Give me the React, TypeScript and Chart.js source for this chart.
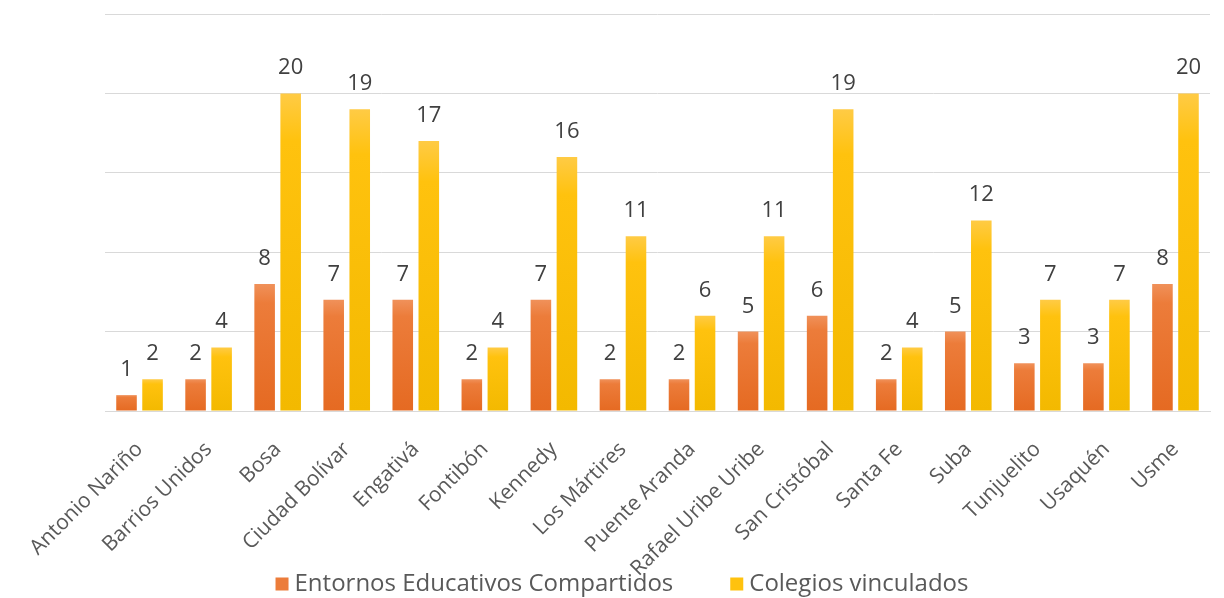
import React, { useEffect, useRef } from "react";
import { Chart, registerables } from "chart.js";

Chart.register(...registerables);

const categories = [
  "Antonio Nariño",
  "Barrios Unidos",
  "Bosa",
  "Ciudad Bolívar",
  "Engativá",
  "Fontibón",
  "Kennedy",
  "Los Mártires",
  "Puente Aranda",
  "Rafael Uribe Uribe",
  "San Cristóbal",
  "Santa Fe",
  "Suba",
  "Tunjuelito",
  "Usaquén",
  "Usme",
];
const entornos = [1, 2, 8, 7, 7, 2, 7, 2, 2, 5, 6, 2, 5, 3, 3, 8];
const colegios = [2, 4, 20, 19, 17, 4, 16, 11, 6, 11, 19, 4, 12, 7, 7, 20];
const seriesNames = ["Entornos Educativos Compartidos", "Colegios vinculados"];
const seriesColors = ["#EC7C3A", "#FFC20E"];

const FONT = "'Open Sans', 'Noto Sans', sans-serif";

function barGradient(top: string, bottom: string, solid: string) {
  return (ctx: any) => {
    const chart = ctx.chart;
    const y = chart.scales && chart.scales.y;
    if (!chart.chartArea || !y || ctx.type !== "data") return solid;
    const v = ctx.dataset.data[ctx.dataIndex];
    const yTop = y.getPixelForValue(v);
    const yBot = y.getPixelForValue(0);
    if (!isFinite(yTop) || !isFinite(yBot) || yBot - yTop < 1) return solid;
    const g = chart.ctx.createLinearGradient(0, yTop, 0, yBot);
    g.addColorStop(0, top);
    g.addColorStop(0.15, solid);
    g.addColorStop(1, bottom);
    return g;
  };
}

const valueLabels = {
  id: "valueLabels",
  afterDatasetsDraw(chart: any) {
    const ctx = chart.ctx;
    ctx.save();
    ctx.font = `22px ${FONT}`;
    ctx.fillStyle = "#404040";
    ctx.textAlign = "center";
    ctx.textBaseline = "alphabetic";
    chart.data.datasets.forEach((ds: any, di: number) => {
      const meta = chart.getDatasetMeta(di);
      meta.data.forEach((bar: any, i: number) => {
        ctx.fillText(String(ds.data[i]), bar.x, bar.y - 19);
      });
    });
    ctx.restore();
  },
};

const bottomLegend = {
  id: "bottomLegend",
  afterDraw(chart: any) {
    const ctx = chart.ctx;
    ctx.save();
    ctx.font = `24px ${FONT}`;
    ctx.textBaseline = "middle";
    ctx.textAlign = "left";
    const box = 13;
    const gapText = 6;
    const gapItems = 57;
    const names = chart.data.datasets.map((d: any) => d.label);
    const widths = names.map((n: string) => ctx.measureText(n).width);
    const total =
      widths.reduce((a: number, w: number) => a + w + box + gapText, 0) +
      gapItems * (names.length - 1);
    let x = chart.width / 2 + 10 - total / 2;
    const yc = 584;
    names.forEach((n: string, i: number) => {
      ctx.fillStyle = seriesColors[i];
      ctx.fillRect(x, yc - box / 2, box, box);
      x += box + gapText;
      ctx.fillStyle = "#595959";
      ctx.fillText(n, x, yc);
      x += widths[i] + gapItems;
    });
    ctx.restore();
  },
};

export default function App() {
  const ref = useRef<HTMLCanvasElement>(null);
  useEffect(() => {
    if (!ref.current) return;
    const chart = new Chart(ref.current, {
      type: "bar",
      data: {
        labels: categories,
        datasets: [
          {
            label: seriesNames[0],
            data: entornos,
            backgroundColor: barGradient("#F0915A", "#E56A22", seriesColors[0]),
            borderWidth: 0,
            categoryPercentage: 0.754,
            barPercentage: 0.79,
          },
          {
            label: seriesNames[1],
            data: colegios,
            backgroundColor: barGradient("#FFCB45", "#F3B900", seriesColors[1]),
            borderWidth: 0,
            categoryPercentage: 0.754,
            barPercentage: 0.79,
          },
        ],
      },
      options: {
        responsive: true,
        maintainAspectRatio: false,
        animation: false,
        layout: { padding: { left: 105, right: 14, top: 14, bottom: 7 } },
        plugins: {
          legend: { display: false },
          tooltip: { enabled: false },
        },
        scales: {
          x: {
            grid: { display: false, drawTicks: false },
            border: { display: true, color: "#D9D9D9", width: 1 },
            ticks: {
              font: { family: FONT, size: 21 },
              color: "#595959",
              minRotation: 45,
              maxRotation: 45,
              padding: 26,
              autoSkip: false,
            },
            afterFit: (axis: any) => {
              axis.height = 180;
            },
          },
          y: {
            min: 0,
            max: 25,
            ticks: { stepSize: 5, display: false },
            grid: { color: "#D9D9D9", drawTicks: false, lineWidth: 1 },
            border: { display: false },
            afterFit: (axis: any) => {
              axis.width = 0;
            },
          },
        },
      },
      plugins: [valueLabels, bottomLegend],
    });
    return () => chart.destroy();
  }, []);
  return (
    <div style={{ position: "fixed", left: 0, top: 0, width: 1224, height: 598, background: "#fff" }}>
      <canvas ref={ref} />
    </div>
  );
}
